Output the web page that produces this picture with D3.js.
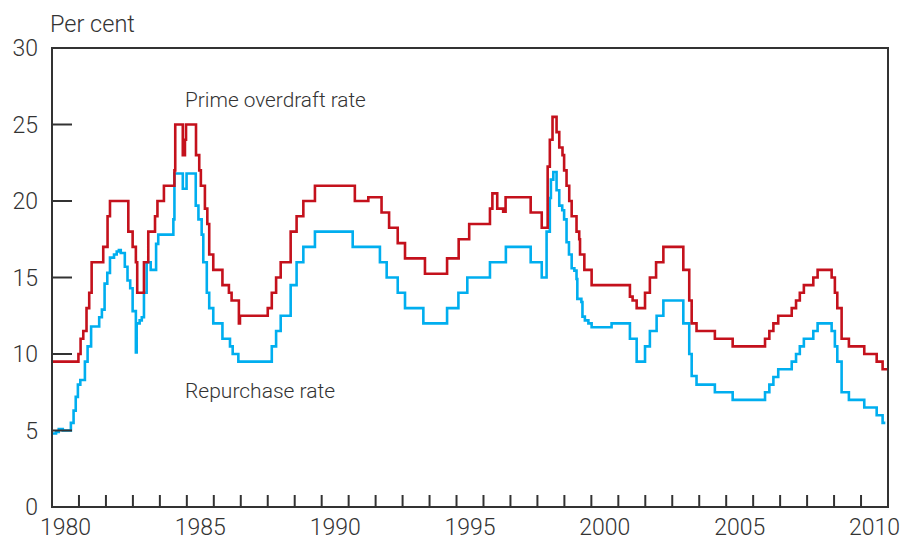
<!DOCTYPE html>
<html lang="en">
<head>
<meta charset="UTF-8">
<title>Prime overdraft rate and repurchase rate</title>
<script src="https://d3js.org/d3.v7.min.js"></script>
<style>
    body { margin: 0; background: #fff; }
    svg text { font-family: Roboto, "Liberation Sans", Arial, sans-serif; font-weight: 300; fill: #333; }
</style>
</head>
<body>
<div id="chart"></div>
<script>
// step series: [year, per cent], each value holds until the next entry
const primeRate = [
    [1980, 9.5], [1980.98, 10], [1981.06, 11], [1981.16, 11.5], [1981.28, 13], [1981.38, 14],
    [1981.47, 16], [1981.9, 17], [1982.06, 19], [1982.15, 20], [1982.83, 18], [1982.99, 17],
    [1983.11, 16], [1983.16, 14], [1983.41, 16], [1983.57, 18], [1983.82, 19], [1983.91, 20],
    [1984.15, 21], [1984.54, 22], [1984.57, 25], [1984.85, 23], [1984.93, 24], [1984.97, 25],
    [1985.34, 23], [1985.46, 22], [1985.52, 21], [1985.67, 19.5], [1985.76, 18.5], [1985.83, 16.5],
    [1985.98, 15.5], [1986.32, 14.5], [1986.56, 14], [1986.66, 13.5], [1986.93, 12], [1986.97, 12.5],
    [1988.0, 13], [1988.15, 14], [1988.31, 15], [1988.48, 16], [1988.85, 18], [1989.07, 19],
    [1989.32, 20], [1989.75, 21], [1991.23, 20], [1991.73, 20.25], [1992.22, 19.25], [1992.5, 18.25],
    [1992.82, 17.25], [1993.09, 16.25], [1993.83, 15.25], [1994.65, 16.25], [1995.08, 17.5],
    [1995.47, 18.5], [1996.24, 19.5], [1996.33, 20.5], [1996.51, 19.5], [1996.73, 19.3],
    [1996.82, 20.25], [1997.75, 19.25], [1998.16, 18.25], [1998.38, 22.25], [1998.46, 24],
    [1998.56, 25.5], [1998.71, 24.5], [1998.81, 23.5], [1998.93, 23], [1998.99, 22], [1999.08, 21],
    [1999.18, 20], [1999.27, 19], [1999.45, 18], [1999.55, 17.5], [1999.58, 16.5], [1999.74, 15.5],
    [2000.01, 14.5], [2001.43, 13.75], [2001.53, 13.5], [2001.68, 13], [2001.99, 14], [2002.17, 15],
    [2002.4, 16], [2002.67, 17], [2003.41, 15.5], [2003.63, 13.5], [2003.72, 12], [2003.9, 11.5],
    [2004.58, 11], [2005.24, 10.5], [2006.44, 11], [2006.6, 11.5], [2006.75, 12], [2006.93, 12.5],
    [2007.43, 13], [2007.59, 13.5], [2007.73, 14], [2007.88, 14.5], [2008.23, 15], [2008.39, 15.5],
    [2008.91, 15], [2009.03, 14], [2009.12, 13], [2009.28, 11], [2009.55, 10.5], [2010.12, 10],
    [2010.58, 9.5], [2010.8, 9], [2011, 9]
];

const repoRate = [
    [1980, 4.8], [1980.15, 4.9], [1980.25, 5.1], [1980.4, 5.0], [1980.7, 5.5], [1980.8, 6.3],
    [1980.88, 7.2], [1980.96, 8.0], [1981.05, 8.3], [1981.22, 9.5], [1981.32, 10.5], [1981.45, 11.8],
    [1981.75, 12.4], [1981.85, 12.9], [1981.95, 14.6], [1982.05, 15.3], [1982.15, 16.3], [1982.3, 16.5],
    [1982.4, 16.7], [1982.48, 16.8], [1982.55, 16.6], [1982.7, 15.7], [1982.8, 14.8], [1982.9, 14.3],
    [1982.99, 12.8], [1983.11, 10.1], [1983.14, 12.0], [1983.25, 12.2], [1983.33, 12.4], [1983.41, 14.0],
    [1983.51, 16.0], [1983.66, 15.5], [1983.86, 17.2], [1983.94, 17.8], [1984.5, 18.8], [1984.54, 21.8],
    [1984.85, 20.8], [1984.99, 21.8], [1985.33, 19.7], [1985.43, 18.8], [1985.55, 17.8], [1985.61, 16.0],
    [1985.74, 14.0], [1985.83, 13.0], [1985.98, 12.0], [1986.32, 11.0], [1986.6, 10.5], [1986.7, 10.0],
    [1986.91, 9.5], [1988.15, 10.5], [1988.31, 11.5], [1988.48, 12.5], [1988.85, 14.5], [1989.07, 16.0],
    [1989.32, 17.0], [1989.75, 18.0], [1991.15, 17.0], [1992.16, 16.0], [1992.41, 15.0], [1992.82, 14.0],
    [1993.09, 13.0], [1993.77, 12.0], [1994.65, 13.0], [1995.07, 14.0], [1995.4, 15.0], [1996.24, 16.0],
    [1996.83, 17.0], [1997.75, 16.0], [1998.16, 15.0], [1998.34, 18.0], [1998.46, 20.2], [1998.5, 21.4],
    [1998.59, 21.9], [1998.71, 20.7], [1998.81, 19.7], [1998.92, 19.4], [1998.99, 18.8], [1999.08, 17.3],
    [1999.17, 16.5], [1999.27, 15.6], [1999.37, 15.45], [1999.45, 14.9], [1999.48, 13.6], [1999.63, 13.4],
    [1999.67, 12.44], [1999.76, 12.2], [1999.89, 12.0], [2000.01, 11.75], [2000.75, 12.0], [2001.43, 11.0],
    [2001.68, 9.5], [2001.99, 10.5], [2002.17, 11.5], [2002.42, 12.5], [2002.67, 13.5], [2003.41, 12.0],
    [2003.63, 10.0], [2003.72, 8.56], [2003.9, 8.0], [2004.58, 7.5], [2005.24, 7.0], [2006.44, 7.5],
    [2006.6, 8.0], [2006.75, 8.5], [2006.93, 9.0], [2007.43, 9.5], [2007.59, 10.0], [2007.73, 10.5],
    [2007.88, 11.0], [2008.23, 11.5], [2008.39, 12.0], [2008.91, 11.5], [2009.03, 10.5], [2009.12, 9.5],
    [2009.28, 7.5], [2009.55, 7.0], [2010.12, 6.5], [2010.58, 6.0], [2010.8, 5.5], [2010.9, 5.5]
];

const yTicks = [0, 5, 10, 15, 20, 25, 30];
const xLabelYears = [1980, 1985, 1990, 1995, 2000, 2005, 2010];

const width = 903, height = 541;
const x = d3.scaleLinear().domain([1980, 2011]).range([52, 888]);
const y = d3.scaleLinear().domain([0, 30]).range([507, 48]);

const svg = d3.select("#chart").append("svg")
    .attr("width", width)
    .attr("height", height);

const line = d3.line()
    .x(d => x(d[0]))
    .y(d => y(d[1]))
    .curve(d3.curveStepAfter);

// series
svg.append("path")
    .datum(repoRate)
    .attr("fill", "none")
    .attr("stroke", "#00aeef")
    .attr("stroke-width", 2.6)
    .attr("d", line);

svg.append("path")
    .datum(primeRate)
    .attr("fill", "none")
    .attr("stroke", "#c4111c")
    .attr("stroke-width", 2.6)
    .attr("d", line);

// frame
const axisColor = "#333";
svg.append("rect")
    .attr("x", x(1980))
    .attr("y", y(30))
    .attr("width", x(2011) - x(1980))
    .attr("height", y(0) - y(30))
    .attr("fill", "none")
    .attr("stroke", axisColor)
    .attr("stroke-width", 2);

// inward y ticks
svg.append("g").selectAll("line")
    .data(yTicks)
    .join("line")
    .attr("x1", x(1980)).attr("x2", x(1980) + 20)
    .attr("y1", d => y(d)).attr("y2", d => y(d))
    .attr("stroke", axisColor)
    .attr("stroke-width", 2);

svg.append("g").selectAll("text")
    .data(yTicks)
    .join("text")
    .attr("x", 38)
    .attr("y", d => y(d))
    .attr("dy", "0.36em")
    .attr("text-anchor", "end")
    .attr("font-size", 23)
    .text(d => d);

// inward x ticks, one per year
svg.append("g").selectAll("line")
    .data(d3.range(1981, 2011))
    .join("line")
    .attr("x1", d => x(d)).attr("x2", d => x(d))
    .attr("y1", y(0)).attr("y2", y(0) - 12)
    .attr("stroke", axisColor)
    .attr("stroke-width", 2);

// year labels sit in the middle of the year
svg.append("g").selectAll("text")
    .data(xLabelYears)
    .join("text")
    .attr("x", d => x(d + 0.5))
    .attr("y", 535)
    .attr("text-anchor", "middle")
    .attr("font-size", 23)
    .text(d => d);

svg.append("text")
    .attr("x", 50).attr("y", 32)
    .attr("font-size", 23.5)
    .text("Per cent");

svg.append("text")
    .attr("x", 185).attr("y", 107)
    .attr("font-size", 20.8)
    .text("Prime overdraft rate");

svg.append("text")
    .attr("x", 185).attr("y", 398)
    .attr("font-size", 21)
    .text("Repurchase rate");
</script>
</body>
</html>
